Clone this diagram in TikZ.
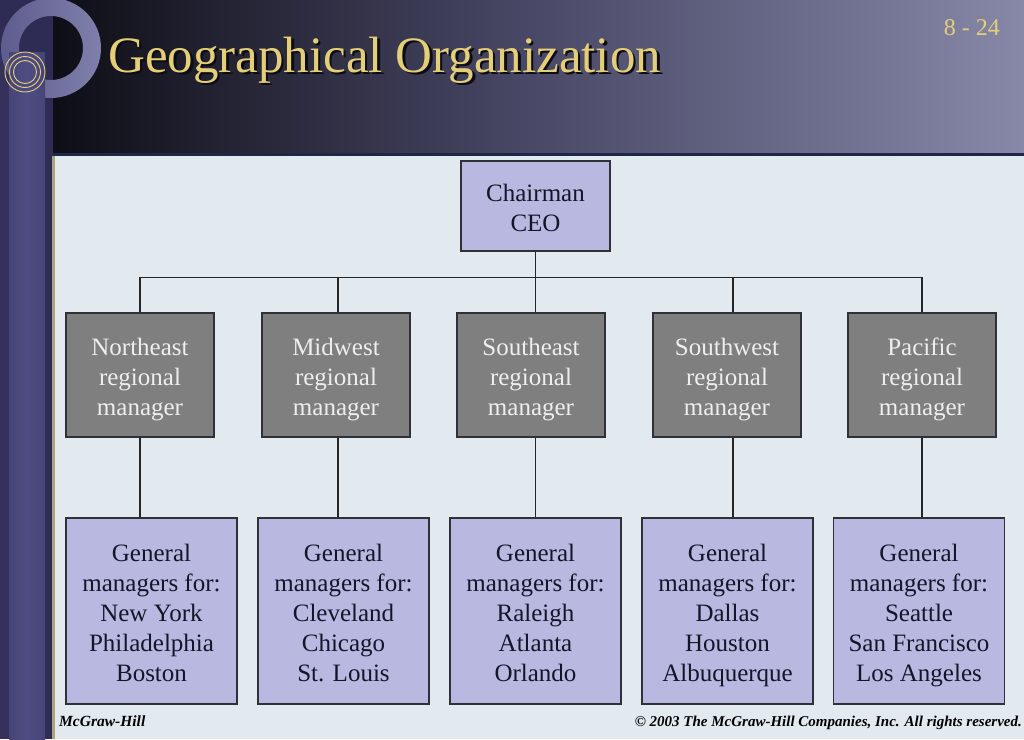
\documentclass[tikz,border=0pt]{standalone}
\usepackage{fontspec}
\setmainfont{Liberation Serif}
\definecolor{leftdark}{HTML}{2E2C54}
\definecolor{leftedge}{HTML}{35315C}
\definecolor{hdrL}{HTML}{0E0E16}
\definecolor{hdrM}{HTML}{4A4968}
\definecolor{hdrR}{HTML}{8788A8}
\definecolor{ringA}{HTML}{5E5C8E}
\definecolor{ringB}{HTML}{8080AC}
\definecolor{barcol}{HTML}{474577}
\definecolor{barlight}{HTML}{4E4C82}
\definecolor{goldcol}{HTML}{E4CF78}
\definecolor{shadowcol}{HTML}{0C0C12}
\definecolor{contentbg}{HTML}{E2E9EF}
\definecolor{navyline}{HTML}{1E2846}
\definecolor{khaki}{HTML}{A8A47C}
\definecolor{lavbox}{HTML}{B8B8E0}
\definecolor{greybox}{HTML}{7F7F7F}
\definecolor{boxline}{HTML}{303038}
\definecolor{darktext}{HTML}{15152A}
\definecolor{lighttext}{HTML}{EEEEEE}
\newcommand{\btext}[1]{\begin{tabular}{@{}c@{}}\rule{0pt}{30pt}#1\end{tabular}}
\newcommand{\shadowtitle}[1]{\makebox[0pt][l]{\kern2.5pt\raisebox{-2.5pt}{\textcolor{shadowcol}{#1}}}#1}
\begin{document}
\begin{tikzpicture}[x=1pt,y=-1pt,
  boxtext/.style={font=\fontsize{25}{30}\selectfont, inner sep=0pt},
  lavnode/.style={boxtext, draw=boxline, line width=1.4pt, fill=lavbox, text=darktext},
  regnode/.style={boxtext, draw=boxline, line width=1.4pt, fill=greybox, text=lighttext,
    minimum width=148pt, minimum height=124pt},
  gmnode/.style={lavnode, minimum width=171pt, minimum height=186pt},
  conn/.style={draw=black!85, line width=1.5pt}]
\useasboundingbox (0,0) rectangle (1024,739);
% left strips and header
\fill[leftdark] (0,0) rectangle (54,739);
\fill[leftedge] (0,52) rectangle (9,739);
\shade[left color=hdrL, right color=hdrR, middle color=hdrM] (53,0) rectangle (1024,156);
% ring
\shade[even odd rule, left color=ringA, right color=ringB] (51,48) circle[radius=50] (51,48) circle[radius=32];
% bar
\shade[left color=barcol, right color=barcol, middle color=barlight] (9,52) rectangle (45,739);
% gold concentric circles
\draw[goldcol, line width=0.9pt] (25,72) circle[radius=20];
\draw[goldcol, line width=0.9pt] (25,72) circle[radius=15.5];
\draw[goldcol, line width=0.9pt] (25,72) circle[radius=11.5];
% content area
\fill[contentbg] (54,156) rectangle (1024,739);
\fill[navyline] (53,153) rectangle (1024,156);
\fill[khaki] (52,156) rectangle (54.5,739);
% title
\node[anchor=base west, inner sep=0pt, text=goldcol, font=\fontsize{51}{60}\selectfont] (title) at (108,72) {\shadowtitle{Geographical Organization}};
\node[anchor=base east, inner sep=0pt, text=goldcol, font=\fontsize{24}{28}\selectfont] (pagenum) at (1000,35) {8 - 24};
% footer
\node[anchor=base west, inner sep=0pt, font=\fontsize{15.5}{18}\selectfont\bfseries\itshape, text=black] (pub) at (59,726) {McGraw-Hill};
\node[anchor=base east, inner sep=0pt, font=\fontsize{15}{18}\selectfont\bfseries\itshape, text=black] (copy) at (1022,726) {© 2003 The McGraw-Hill Companies, Inc. All rights reserved.};
% chart
\node[lavnode, minimum width=149pt, minimum height=90pt] (ceo) at (535.5,206) {\btext{Chairman\\CEO}};
\node[regnode] (ne) at (140,375) {\btext{Northeast\\regional\\manager}};
\node[regnode] (mw) at (336,375) {\btext{Midwest\\regional\\manager}};
\node[regnode] (se) at (531,375) {\btext{Southeast\\regional\\manager}};
\node[regnode] (sw) at (727,375) {\btext{Southwest\\regional\\manager}};
\node[regnode] (pa) at (922,375) {\btext{Pacific\\regional\\manager}};
\node[gmnode] (g1) at (151.5,611) {\btext{General\\managers for:\\New York\\Philadelphia\\Boston}};
\node[gmnode] (g2) at (343.5,611) {\btext{General\\managers for:\\Cleveland\\Chicago\\St. Louis}};
\node[gmnode] (g3) at (535.5,611) {\btext{General\\managers for:\\Raleigh\\Atlanta\\Orlando}};
\node[gmnode] (g4) at (727.5,611) {\btext{General\\managers for:\\Dallas\\Houston\\Albuquerque}};
\node[gmnode] (g5) at (919,611) {\btext{General\\managers for:\\Seattle\\San Francisco\\Los Angeles}};
\coordinate (bus) at (0,277.5);
% connectors
\draw[conn] (ceo.south) -- (ceo.south |- bus);
\draw[conn] (ne.north) -- (ne.north |- bus) -| (pa.north);
\draw[conn] ([xshift=2pt]mw.north) -- ([xshift=2pt]mw.north |- bus);
\draw[conn] ([xshift=4.5pt]se.north) -- ([xshift=4.5pt]se.north |- bus);
\draw[conn] ([xshift=6pt]sw.north) -- ([xshift=6pt]sw.north |- bus);
\draw[conn] (ne.south) -- (ne.south |- g1.north);
\draw[conn] ([xshift=2pt]mw.south) -- ([xshift=2pt]mw.south |- g2.north);
\draw[conn] ([xshift=4.5pt]se.south) -- ([xshift=4.5pt]se.south |- g3.north);
\draw[conn] ([xshift=6pt]sw.south) -- ([xshift=6pt]sw.south |- g4.north);
\draw[conn] (pa.south) -- (pa.south |- g5.north);
\end{tikzpicture}
\end{document}
